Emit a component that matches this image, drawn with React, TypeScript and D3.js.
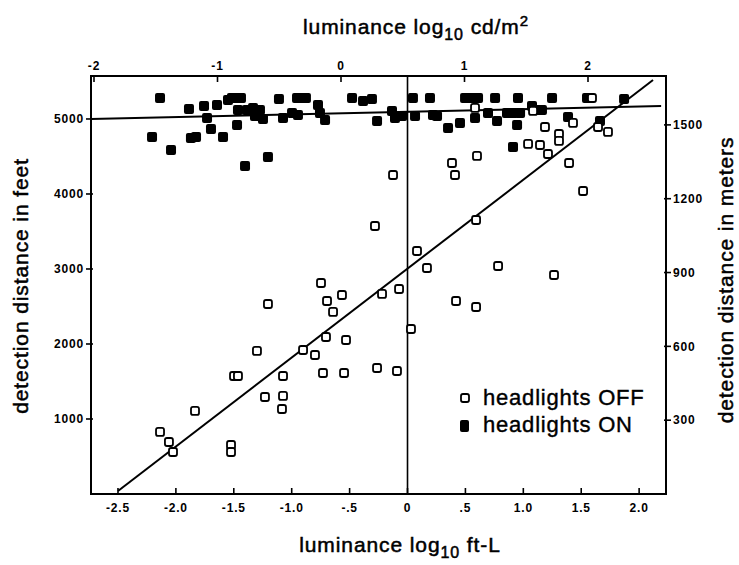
import React from "react";
import * as d3 from "d3";

// ---- data (x: luminance log10 ft-L, y: detection distance in feet) ----
const onX = [-2.137,-2.206,-2.042,-1.887,-1.870,-1.826,-1.757,-1.731,-1.697,-1.645,-1.593,-1.550,-1.516,-1.472,-1.438,-1.472,-1.464,-1.386,-1.334,-1.274,-1.403,-1.317,-1.248,-1.205,-1.110,-1.075,-0.997,-0.954,-0.911,-0.877,-0.946,-0.773,-0.756,-0.712,-0.479,-0.384,-0.307,-0.263,-0.134,-0.108,-0.047,0.047,0.065,0.194,0.220,0.255,0.350,0.453,0.497,0.540,0.583,0.609,0.583,0.695,0.773,0.756,0.859,0.911,0.946,0.972,0.954,0.911,1.075,1.118,1.161,1.248,1.386,1.550,1.662,1.870];
const onY = [5280,4760,4587,5133,4747,4760,5173,5013,4867,5187,4760,5253,5280,5280,5280,4920,5120,5120,5147,5120,4373,5040,5000,4493,5267,5013,5080,5280,5280,5280,5053,5187,5080,4987,5280,5240,5267,4973,5107,5013,5040,5280,5040,5280,5053,5040,4880,4947,5280,5280,5280,5280,5013,5080,4973,5280,5080,5080,4920,5080,5280,4627,5173,5120,5120,5280,5027,5280,4973,5267];

const offX = [-0.125,-0.281,0.082,-0.747,-1.205,-0.695,-0.566,-0.643,-0.220,-0.073,0.030,-1.300,-0.902,-0.799,-0.704,-0.531,-1.498,-1.464,-1.075,-0.730,-0.548,-0.263,-0.091,-1.231,-1.075,-1.084,-1.835,-2.137,-2.060,-2.025,-1.524,-1.524,0.583,1.084,1.593,1.187,1.429,1.645,1.731,1.308,1.308,1.041,1.144,1.213,0.600,0.384,0.410,1.395,1.516,0.592,0.168,0.782,1.265,0.419,0.592];
const offY = [4253,3573,3240,2813,2533,2573,2653,2427,2667,2733,2200,1907,1920,1853,2093,2053,1573,1573,1573,1613,1613,1680,1640,1293,1307,1133,1107,827,693,560,653,560,5147,5107,5280,4893,4947,4893,4827,4800,4707,4667,4653,4533,4507,4413,4253,4413,4040,3653,3013,3040,2920,2573,2493];

// regression lines: [intercept (ft), slope (ft per log unit), xStart, xEnd]
const offFit = [3005, 1186, -2.5, 2.12];
const onFit = [5096, 35, -2.733, 2.19];

// ticks
const bottomTicks = [-2.5, -2.0, -1.5, -1.0, -0.5, 0, 0.5, 1.0, 1.5, 2.0];
const bottomTickLabels = ["-2.5", "-2.0", "-1.5", "-1.0", "-.5", "0", ".5", "1.0", "1.5", "2.0"];
const topTicks = [-2, -1, 0, 1, 2];
const topTickLabels = ["-2", "-1", "0", "1", "2"];
const feetTicks = [1000, 2000, 3000, 4000, 5000];
const meterTicks = [300, 600, 900, 1200, 1500];

const xDomain = [-2.733, 2.232];
const feetDomain = [0, 5573];
const FT_TO_M = 0.3048;
const cdDomain = [-2, 2];

const W = 739, H = 565;
const m = { left: 91, top: 76, right: 73, bottom: 71 };
const pw = W - m.left - m.right;
const ph = H - m.top - m.bottom;

const font = "'Liberation Sans', Arial, Helvetica, sans-serif";

export default function App() {
  const x = d3.scaleLinear().domain(xDomain).range([0, pw]);
  const y = d3.scaleLinear().domain(feetDomain).range([ph, 0]);
  const yM = d3.scaleLinear().domain(feetDomain.map((d) => d * FT_TO_M)).range([ph, 0]);
  const xTop = d3.scaleLinear().domain(cdDomain).range([3, 497]);

  const fitPath = (f: number[]) => {
    const l = d3.line<number>().x((v) => x(v)).y((v) => y(f[0] + f[1] * v));
    return l([f[2], f[3]]) || "";
  };

  const onPts = onX.map((v, i) => [v, onY[i]]);
  const offPts = offX.map((v, i) => [v, offY[i]]);

  const tickFont = { fontFamily: font, fontWeight: 700, fontSize: 12, letterSpacing: 0.8 } as const;
  const titleFont = { fontFamily: font, fontSize: 21, letterSpacing: 0.9, stroke: "#000", strokeWidth: 0.5 } as const;

  return (
    <svg width={W} height={H} style={{ position: "absolute", left: 0, top: 0, background: "#fff" }}>
      <rect width={W} height={H} fill="#fff" />
      <g transform={`translate(${m.left},${m.top})`}>
        {/* frame */}
        <rect x={0} y={0} width={pw} height={ph} fill="none" stroke="#000" strokeWidth={2} />
        {/* vertical line at 0 */}
        <line x1={x(0)} x2={x(0)} y1={0} y2={ph} stroke="#000" strokeWidth={1.6} />

        {/* bottom ticks */}
        {bottomTicks.map((t, i) => (
          <g key={"b" + i} transform={`translate(${x(t)},${ph})`}>
            <line y1={0} y2={-6} stroke="#000" strokeWidth={1.6} />
            <text y={18} textAnchor="middle" {...tickFont}>{bottomTickLabels[i]}</text>
          </g>
        ))}
        {/* top ticks */}
        {topTicks.map((t, i) => (
          <g key={"t" + i} transform={`translate(${xTop(t)},0)`}>
            <line y1={0} y2={6} stroke="#000" strokeWidth={1.6} />
            <text y={-6} textAnchor="middle" {...tickFont}>{topTickLabels[i]}</text>
          </g>
        ))}
        {/* left ticks */}
        {feetTicks.map((t) => (
          <g key={"l" + t} transform={`translate(0,${y(t)})`}>
            <line x1={-5} x2={2} stroke="#000" strokeWidth={1.6} />
            <text x={-7} dy="0.35em" textAnchor="end" {...tickFont}>{t}</text>
          </g>
        ))}
        {/* right ticks */}
        {meterTicks.map((t) => (
          <g key={"r" + t} transform={`translate(${pw},${yM(t)})`}>
            <line x1={-2} x2={5} stroke="#000" strokeWidth={1.6} />
            <text x={7} dy="0.35em" textAnchor="start" {...tickFont}>{t}</text>
          </g>
        ))}

        {/* fit lines */}
        <path d={fitPath(offFit)} stroke="#000" strokeWidth={2} fill="none" />
        <path d={fitPath(onFit)} stroke="#000" strokeWidth={2} fill="none" />

        {/* points */}
        {onPts.map((p, i) => (
          <rect key={"on" + i} x={x(p[0]) - 5} y={y(p[1]) - 5} width={10} height={10} rx={2} fill="#000" />
        ))}
        {offPts.map((p, i) => (
          <rect key={"off" + i} x={x(p[0]) - 4} y={y(p[1]) - 4} width={8} height={8} rx={2} fill="#fff" stroke="#000" strokeWidth={1.8} />
        ))}

        {/* legend */}
        <rect x={370} y={318} width={8} height={8} rx={2} fill="#fff" stroke="#000" strokeWidth={1.8} />
        <text x={392} y={329} fontFamily={font} fontSize={22} letterSpacing={0.8} stroke="#000" strokeWidth={0.4}>headlights OFF</text>
        <rect x={369} y={344} width={9} height={12} rx={2} fill="#000" />
        <text x={392} y={356} fontFamily={font} fontSize={22} letterSpacing={0.8} stroke="#000" strokeWidth={0.4}>headlights ON</text>
      </g>

      {/* axis titles */}
      <text x={400} y={552} textAnchor="middle" {...titleFont}>
        luminance log<tspan fontSize={16} dy={6}>10</tspan><tspan dy={-6}> ft-L</tspan>
      </text>
      <text x={416} y={34} textAnchor="middle" {...titleFont}>
        luminance log<tspan fontSize={16} dy={6}>10</tspan><tspan dy={-6}> cd/m</tspan><tspan fontSize={15} dy={-8}>2</tspan>
      </text>
      <text transform="translate(28,286) rotate(-90)" textAnchor="middle" {...titleFont}>detection distance in feet</text>
      <text transform="translate(733,280) rotate(-90)" textAnchor="middle" {...titleFont}>detection distance in meters</text>
    </svg>
  );
}
